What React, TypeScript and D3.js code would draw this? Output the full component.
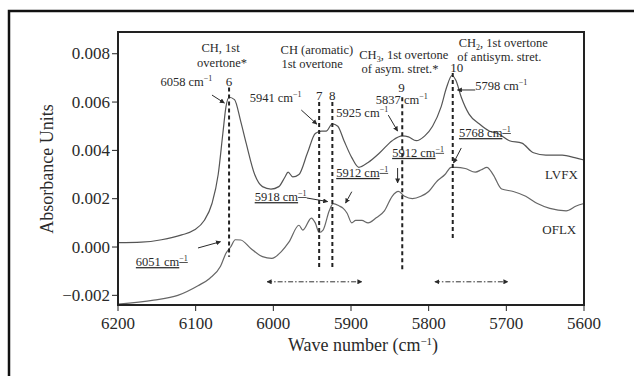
import React from 'react';
import * as d3 from 'd3';

// spectra (wave number, absorbance)
const lvfxWave = [6200, 6170, 6144, 6118, 6102, 6089, 6079, 6071, 6065, 6061, 6057, 6050, 6042, 6035, 6024, 6014, 6003, 5993, 5985, 5981, 5975, 5967, 5956, 5946, 5938, 5932, 5924, 5917, 5909, 5899, 5890, 5878, 5863, 5847, 5834, 5826, 5816, 5805, 5795, 5784, 5777, 5770, 5765, 5758, 5748, 5735, 5722, 5711, 5696, 5680, 5665, 5649, 5628, 5612, 5600];
const lvfxAbs = [0.00018, 0.0002, 0.0003, 0.0005, 0.0007, 0.0011, 0.0018, 0.003, 0.0047, 0.0058, 0.0062, 0.0061, 0.0052, 0.0043, 0.003, 0.0025, 0.0024, 0.0025, 0.0029, 0.0031, 0.0029, 0.003, 0.0039, 0.0047, 0.0048, 0.0048, 0.0051, 0.005, 0.0044, 0.0037, 0.0033, 0.0035, 0.0039, 0.0044, 0.0046, 0.00456, 0.0044, 0.0046, 0.005, 0.0058, 0.0066, 0.0071, 0.0069, 0.0062, 0.0055, 0.0051, 0.0048, 0.0047, 0.0044, 0.0043, 0.0039, 0.0038, 0.0038, 0.0037, 0.0036];
const oflxWave = [6200, 6154, 6123, 6097, 6082, 6068, 6061, 6055, 6049, 6042, 6029, 6014, 6002, 5990, 5980, 5967, 5962, 5951, 5946, 5941, 5936, 5928, 5923, 5915, 5910, 5905, 5899, 5894, 5886, 5878, 5868, 5857, 5847, 5839, 5831, 5821, 5810, 5800, 5790, 5779, 5771, 5764, 5753, 5740, 5732, 5725, 5717, 5706, 5691, 5675, 5660, 5644, 5623, 5610, 5600];
const oflxAbs = [-0.00236, -0.0022, -0.002, -0.0016, -0.0013, -0.0008, -0.00026, 0, 0.0003, 0.00029, -0.00006, -0.0004, -0.00047, -0.0002, 0.0002, 0.0009, 0.0007, 0.0012, 0.001, 0.0006, 0.0007, 0.0015, 0.0018, 0.0017, 0.0016, 0.0014, 0.001, 0.0011, 0.0011, 0.001, 0.0012, 0.0015, 0.0021, 0.0023, 0.0021, 0.002, 0.0021, 0.0023, 0.0027, 0.003, 0.0033, 0.0033, 0.00325, 0.0031, 0.0032, 0.0033, 0.003, 0.0024, 0.0023, 0.0021, 0.0018, 0.0016, 0.0015, 0.0017, 0.0018];

const xTicks = [6200, 6100, 6000, 5900, 5800, 5700, 5600];
const yTicks = [-0.002, 0, 0.002, 0.004, 0.006, 0.008];

// dashed band markers
const bandWave = [6057, 5941, 5924, 5834, 5769];
const bandTop = [0.0066, 0.006, 0.006, 0.0062, 0.0072];
const bandBottom = [-0.0004, -0.00095, -0.00095, -0.00095, 0.0003];

// dash-dot ranges
const rangeFrom = [6008, 5792];
const rangeTo = [5886, 5698];
const rangeAbs = -0.00144;

type Label = { t: string; sup?: string; sub?: string; tail?: string; w: number; a: number; anchor?: string; u?: boolean; size?: number };
const labels: Label[] = [
  { t: 'CH, 1st', w: 6068, a: 0.00807 },
  { t: 'overtone*', w: 6066, a: 0.00745 },
  { t: '6058 cm', sup: '−1', w: 6112, a: 0.00667 },
  { t: '6', w: 6057, a: 0.00667, size: 13 },
  { t: 'CH (aromatic)', w: 5944, a: 0.00799 },
  { t: '1st overtone', w: 5950, a: 0.00741 },
  { t: 'CH', sub: '3', tail: ', 1st overtone', w: 5832, a: 0.00778 },
  { t: 'of asym. stret.*', w: 5837, a: 0.0072 },
  { t: 'CH', sub: '2', tail: ', 1st overtone', w: 5704, a: 0.00828 },
  { t: 'of antisym. stret.', w: 5709, a: 0.0077 },
  { t: '10', w: 5764, a: 0.00725, size: 13 },
  { t: '5941 cm', sup: '−1', w: 5997, a: 0.006 },
  { t: '7', w: 5941, a: 0.00609, size: 13 },
  { t: '8', w: 5924, a: 0.00609, size: 13 },
  { t: '5925 cm', sup: '−1', w: 5919, a: 0.00538, anchor: 'start' },
  { t: '9', w: 5835, a: 0.00642, size: 13 },
  { t: '5837 cm', sup: '−1', w: 5868, a: 0.00592, anchor: 'start' },
  { t: '5798 cm', sup: '−1', w: 5740, a: 0.0065, anchor: 'start' },
  { t: '5768 cm', sup: '−1', w: 5761, a: 0.00455, anchor: 'start', u: true },
  { t: '5912 cm', sup: '−1', w: 5847, a: 0.00373, anchor: 'start', u: true },
  { t: '5912 cm', sup: '−1', w: 5919, a: 0.0029, anchor: 'start', u: true },
  { t: '5918 cm', sup: '−1', w: 6024, a: 0.0019, anchor: 'start', u: true },
  { t: '6051 cm', sup: '−1', w: 6177, a: -0.00079, anchor: 'start', u: true },
  { t: 'LVFX', w: 5608, a: 0.00282, anchor: 'end', size: 13 },
  { t: 'OFLX', w: 5610, a: 0.00054, anchor: 'end', size: 13 },
];

// pointer arrows [fromWave, fromAbs, toWave, toAbs]
const pointers = [
  [6079, 0.00629, 6063, 0.00596],
  [5964, 0.00567, 5944, 0.00509],
  [5852, 0.00546, 5840, 0.0048],
  [5740, 0.0065, 5763, 0.0065],
  [5758, 0.0041, 5768, 0.00348],
  [5840, 0.00327, 5840, 0.00265],
  [5957, 0.00203, 5930, 0.00188],
  [5899, 0.00229, 5907, 0.00182],
  [6097, -0.00004, 6068, 0.00022],
];

const W = 634, H = 376;
const font = '"Liberation Serif", "Times New Roman", serif';
const ink = '#2a2a2a';

export default function App() {
  const x = d3.scaleLinear().domain([6200, 5600]).range([118, 584]);
  const y = d3.scaleLinear().domain([-0.0024, 0.0089]).range([305, 32]);
  const line = d3.line<number>().curve(d3.curveMonotoneX);
  const lv = line(lvfxWave.map((w, i) => [x(w), y(lvfxAbs[i])] as any) as any);
  const of = line(oflxWave.map((w, i) => [x(w), y(oflxAbs[i])] as any) as any);
  const fmt = d3.format('.3f');

  return (
    <div style={{ position: 'absolute', left: 0, top: 0 }}>
      <svg width={W} height={H} style={{ display: 'block', background: '#fff' }} fontFamily={font}>
        <defs>
          <marker id="ah" viewBox="0 0 10 10" refX="9" refY="5" markerWidth="5" markerHeight="5" orient="auto-start-reverse">
            <path d="M0,0 L10,5 L0,10 z" fill={ink} />
          </marker>
        </defs>
        <rect x={9} y={11} width={640} height={380} fill="none" stroke="#111" strokeWidth={2.5} />
        <g clipPath="url(#c)">
          <path d={lv || ''} fill="none" stroke="#555" strokeWidth={1.2} />
          <path d={of || ''} fill="none" stroke="#666" strokeWidth={1.2} />
        </g>
        {bandWave.map((w, i) => (
          <line key={'b' + i} x1={x(w)} x2={x(w)} y1={y(bandTop[i])} y2={y(bandBottom[i])} stroke="#222" strokeWidth={2} strokeDasharray="4 3" />
        ))}
        {rangeFrom.map((w, i) => (
          <line key={'r' + i} x1={x(w)} x2={x(rangeTo[i])} y1={y(rangeAbs)} y2={y(rangeAbs)} stroke="#333" strokeWidth={1} strokeDasharray="5 2 1.5 2" markerStart="url(#ah)" markerEnd="url(#ah)" />
        ))}
        {pointers.map((p, i) => (
          <line key={'p' + i} x1={x(p[0])} y1={y(p[1])} x2={x(p[2])} y2={y(p[3])} stroke={ink} strokeWidth={1} markerEnd="url(#ah)" />
        ))}
        {labels.map((l, i) => (
          <text key={'l' + i} x={x(l.w)} y={y(l.a)} textAnchor={l.anchor || 'middle'} fontSize={l.size || 12.5} fill={ink}
            style={l.u ? { textDecoration: 'underline' } : undefined}>
            {l.t}
            {l.sup ? <tspan fontSize={8} dy={-5}>{l.sup}</tspan> : null}
            {l.sub ? <tspan fontSize={8} dy={3}>{l.sub}</tspan> : null}
            {l.tail ? <tspan dy={-3}>{l.tail}</tspan> : null}
          </text>
        ))}
        <rect x={118} y={32} width={466} height={273} fill="none" stroke="#222" strokeWidth={2} />
        {xTicks.map(t => (
          <g key={'x' + t}>
            <line x1={x(t)} x2={x(t)} y1={305} y2={311} stroke="#222" strokeWidth={1} />
            <text x={x(t)} y={329} textAnchor="middle" fontSize={17} fill={ink}>{t}</text>
          </g>
        ))}
        {yTicks.map(t => (
          <g key={'y' + t}>
            <line x1={112} x2={118} y1={y(t)} y2={y(t)} stroke="#222" strokeWidth={1} />
            <text x={110} y={y(t) + 5.5} textAnchor="end" fontSize={17} fill={ink}>{t < 0 ? '−' + fmt(-t) : fmt(t)}</text>
          </g>
        ))}
        <text x={363} y={351} textAnchor="middle" fontSize={18} fill={ink}>
          Wave number (cm<tspan fontSize={11} dy={-6}>−1</tspan><tspan dy={6}>)</tspan>
        </text>
        <text transform={`translate(53,169) rotate(-90)`} textAnchor="middle" fontSize={18} fill={ink}>Absorbance Units</text>
      </svg>
    </div>
  );
}
